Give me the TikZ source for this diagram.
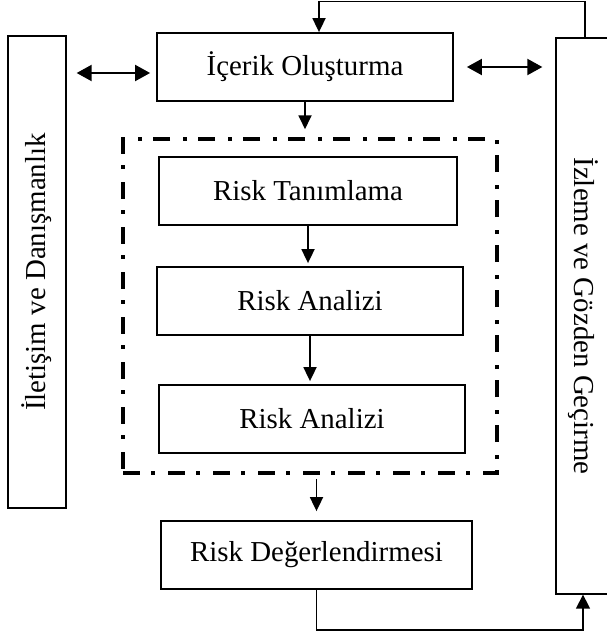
\documentclass[tikz,border=0pt]{standalone}
\usepackage{fontspec}
\setmainfont{Liberation Serif}
\usetikzlibrary{arrows.meta}
\begin{document}
\begin{tikzpicture}[x=1pt,y=-1pt,
  font=\fontsize{28.9}{34}\selectfont,
  box/.style={draw, line width=1.8pt, inner sep=0pt, minimum height=68pt},
  sidebox/.style={draw, line width=1.3pt, inner sep=0pt},
  arr/.style={line width=1.8pt, -{Triangle[length=14pt,width=13pt]}},
  dbl/.style={line width=2pt,
    {Triangle[length=15pt,width=16pt]}-{Triangle[length=15pt,width=16pt]}},
  link/.style={line width=1.3pt},
  dashdot/.style={draw, line width=3.5pt, inner sep=0pt,
    dash pattern=on 17pt off 11pt on 4pt off 13pt}
]
\useasboundingbox (0,0) rectangle (606,634);

% side boxes (rotated text); the right one runs past the page edge
\node[sidebox, rotate=90, minimum width=472pt, minimum height=58pt]
  (iletisim) at (37,272) {İletişim ve Danışmanlık};
\node[sidebox, rotate=-90, minimum width=556pt, minimum height=64pt,
      text height=34pt, text depth=6pt]
  (izleme) at (588,316) {İzleme ve Gözden Geçirme};

% main column
\node[box, minimum width=296pt] (icerik) at (305,67) {İçerik Oluşturma};
\node[dashdot, minimum width=374pt, minimum height=334pt] (grp) at (310,306) {};
\node[box, minimum width=298pt] (tanim) at (308,191) {Risk Tanımlama};
\node[box, minimum width=306pt] (analiz1) at (310,301) {Risk Analizi};
\node[box, minimum width=306pt] (analiz2) at (312,419) {Risk Analizi};
\node[box, minimum width=311pt] (deger) at (316.5,555) {Risk Değerlendirmesi};

% feedback from monitoring back to the top
\coordinate (ctop) at (319,1.5);
\draw[link] ([xshift=-3pt]izleme.west) |- (ctop);
\draw[arr] (ctop) -- (ctop |- icerik.north);

% two-way links with the side boxes
\draw[dbl, shorten <=10pt, shorten >=6pt]
  ([yshift=-6pt]iletisim.south |- icerik.west) -- ([yshift=-6pt]icerik.west);
\draw[dbl, shorten <=13pt, shorten >=13pt]
  (icerik.east) -- (izleme.south |- icerik.east);

% downward flow
\draw[arr, shorten >=8pt] (icerik.south) -- (icerik.south |- grp.north);
\draw[arr, shorten >=3pt] (tanim.south) -- (tanim.south |- analiz1.north);
\draw[arr, shorten >=3pt] (analiz1.south) -- (analiz1.south |- analiz2.north);
\draw[arr, shorten <=4pt, shorten >=9pt] (grp.south -| deger.north) -- (deger.north);

% result fed into monitoring
\draw[link, line width=1.5pt, -{Triangle[length=14pt,width=14pt]}]
  (deger.south) -- ++(0,40) -| ([xshift=-5pt]izleme.east);
\end{tikzpicture}
\end{document}
